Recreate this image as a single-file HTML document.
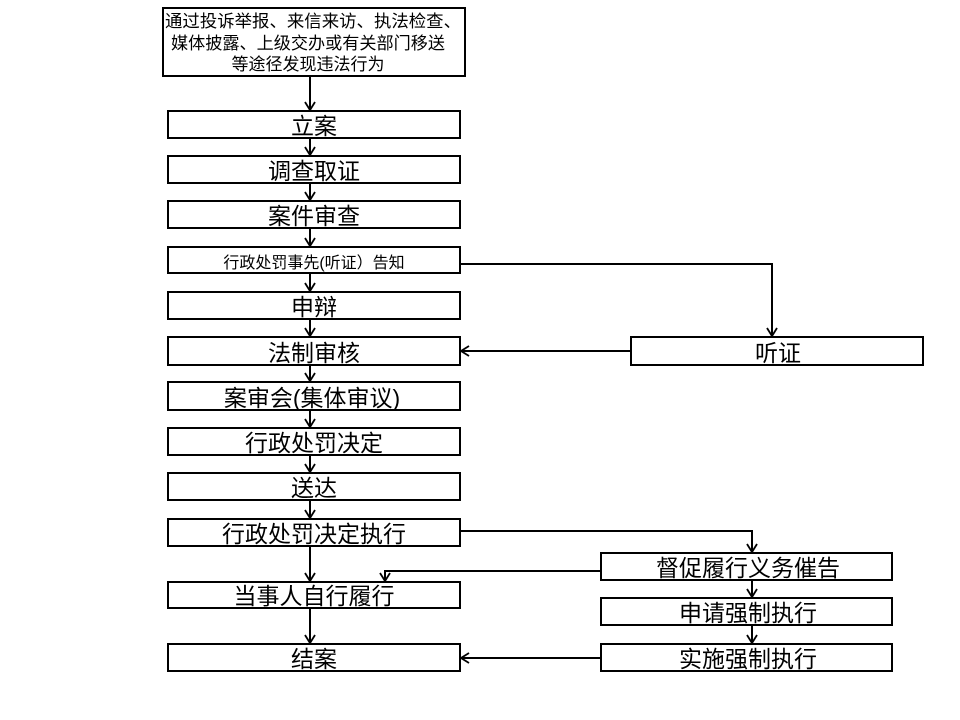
<!DOCTYPE html>
<html><head><meta charset="utf-8"><style>
html,body{margin:0;padding:0;background:#fff;}
svg{display:block;}
text{font-family:"Liberation Sans","Noto Sans CJK SC","WenQuanYi Zen Hei",sans-serif;fill:#000;}
</style></head><body>
<svg width="960" height="720" viewBox="0 0 960 720" xmlns="http://www.w3.org/2000/svg">
<g fill="#fff" stroke="#000" stroke-width="2">
<rect x="163" y="8" width="302" height="68"/>
<rect x="168" y="111" width="292" height="27"/>
<rect x="168" y="156" width="292" height="27"/>
<rect x="168" y="201" width="292" height="27"/>
<rect x="168" y="247" width="292" height="26"/>
<rect x="168" y="292" width="292" height="27"/>
<rect x="168" y="337" width="292" height="28"/>
<rect x="168" y="382" width="292" height="28"/>
<rect x="168" y="428" width="292" height="27"/>
<rect x="168" y="473" width="292" height="27"/>
<rect x="168" y="519" width="292" height="27"/>
<rect x="168" y="582" width="292" height="26"/>
<rect x="168" y="644" width="292" height="27"/>
<rect x="631" y="337" width="292" height="28"/>
<rect x="601" y="553" width="291" height="27"/>
<rect x="601" y="598" width="291" height="27"/>
<rect x="601" y="644" width="291" height="27"/>
</g>
<g fill="none" stroke="#000" stroke-width="2">
<path d="M310 77V110 M310 139V155 M310 184V200 M310 229V246 M310 274V291 M310 320V336 M310 366V381 M310 411V427 M310 456V472 M310 501V518 M310 547V581 M310 609V643"/>
<path d="M461 264H772V336 M630 351H461 M461 531H752V552 M600 571H385V581 M752 581V597 M752 626V643 M600 658H461"/>
<g stroke-width="1.8">
<path d="M305 102L310 110L315 102 M305 147L310 155L315 147 M305 192L310 200L315 192 M305 238L310 246L315 238 M305 283L310 291L315 283 M305 328L310 336L315 328 M305 373L310 381L315 373 M305 419L310 427L315 419 M305 464L310 472L315 464 M305 510L310 518L315 510 M305 573L310 581L315 573 M305 635L310 643L315 635"/>
<path d="M767 328L772 336L777 328 M747 544L752 552L757 544 M380 573L385 581L390 573 M747 589L752 597L757 589 M747 635L752 643L757 635"/>
<path d="M469 346L461 351L469 356 M469 653L461 658L469 663"/>
</g>
</g>
<g text-anchor="middle">
<text x="313" y="27" font-size="17" textLength="296" lengthAdjust="spacingAndGlyphs">通过投诉举报、来信来访、执法检查、</text>
<text x="308" y="49" font-size="17" textLength="274" lengthAdjust="spacingAndGlyphs">媒体披露、上级交办或有关部门移送</text>
<text x="308" y="70" font-size="17">等途径发现违法行为</text>
<g font-size="23">
<text x="314" y="134">立案</text>
<text x="314" y="179">调查取证</text>
<text x="314" y="224">案件审查</text>
<text x="314" y="315">申辩</text>
<text x="314" y="361">法制审核</text>
<text x="312" y="406">案审会(集体审议)</text>
<text x="314" y="451">行政处罚决定</text>
<text x="314" y="496">送达</text>
<text x="314" y="542">行政处罚决定执行</text>
<text x="314" y="604">当事人自行履行</text>
<text x="314" y="667">结案</text>
<text x="778" y="361">听证</text>
<text x="748" y="576">督促履行义务催告</text>
<text x="748" y="621">申请强制执行</text>
<text x="748" y="667">实施强制执行</text>
</g>
<text x="314" y="268" font-size="16">行政处罚事先(听证）告知</text>
</g>
</svg>
</body></html>
